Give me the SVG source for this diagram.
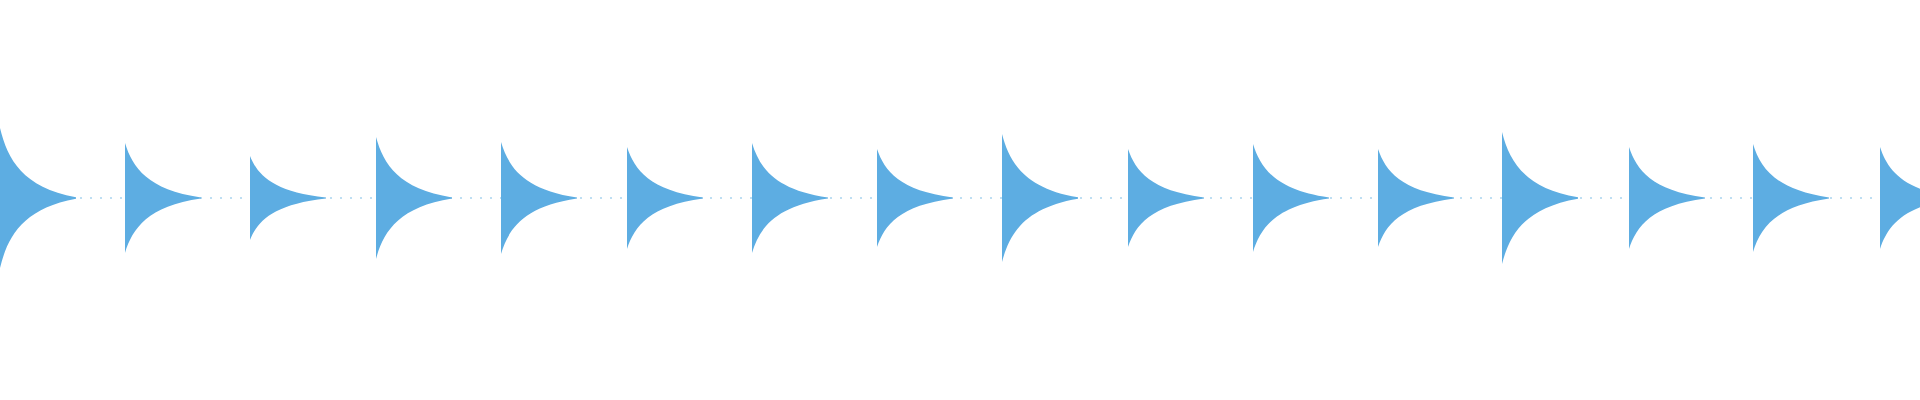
<svg xmlns="http://www.w3.org/2000/svg" width="1920" height="400" viewBox="0 0 1920 400">
<style>.p{fill:#5dade2;stroke:none}.b{stroke:#5dade2;stroke-width:1;stroke-dasharray:2 8;opacity:0.8}</style>
<defs><path id="w" d="M0,-1 L0,1 C0.1,0.55 0.3,0.15 1,0.01 L1,-0.01 C0.3,-0.15 0.1,-0.55 0,-1 Z"/></defs>
<rect width="1920" height="400" fill="#fff"/>
<line class="b" x1="0" y1="198" x2="1920" y2="198"/>
<g>
<use class="p" href="#w" transform="translate(0,198) scale(76,70)"/>
<use class="p" href="#w" transform="translate(125,198) scale(76,55)"/>
<use class="p" href="#w" transform="translate(250,198) scale(76,42)"/>
<use class="p" href="#w" transform="translate(376,198) scale(76,61)"/>
<use class="p" href="#w" transform="translate(501,198) scale(76,56)"/>
<use class="p" href="#w" transform="translate(627,198) scale(76,51)"/>
<use class="p" href="#w" transform="translate(752,198) scale(76,55)"/>
<use class="p" href="#w" transform="translate(877,198) scale(76,49)"/>
<use class="p" href="#w" transform="translate(1002,198) scale(76,64)"/>
<use class="p" href="#w" transform="translate(1128,198) scale(76,49)"/>
<use class="p" href="#w" transform="translate(1253,198) scale(76,54)"/>
<use class="p" href="#w" transform="translate(1378,198) scale(76,49)"/>
<use class="p" href="#w" transform="translate(1502,198) scale(76,66)"/>
<use class="p" href="#w" transform="translate(1629,198) scale(76,51)"/>
<use class="p" href="#w" transform="translate(1753,198) scale(76,54)"/>
<use class="p" href="#w" transform="translate(1880,198) scale(76,51)"/>
</g>
</svg>
